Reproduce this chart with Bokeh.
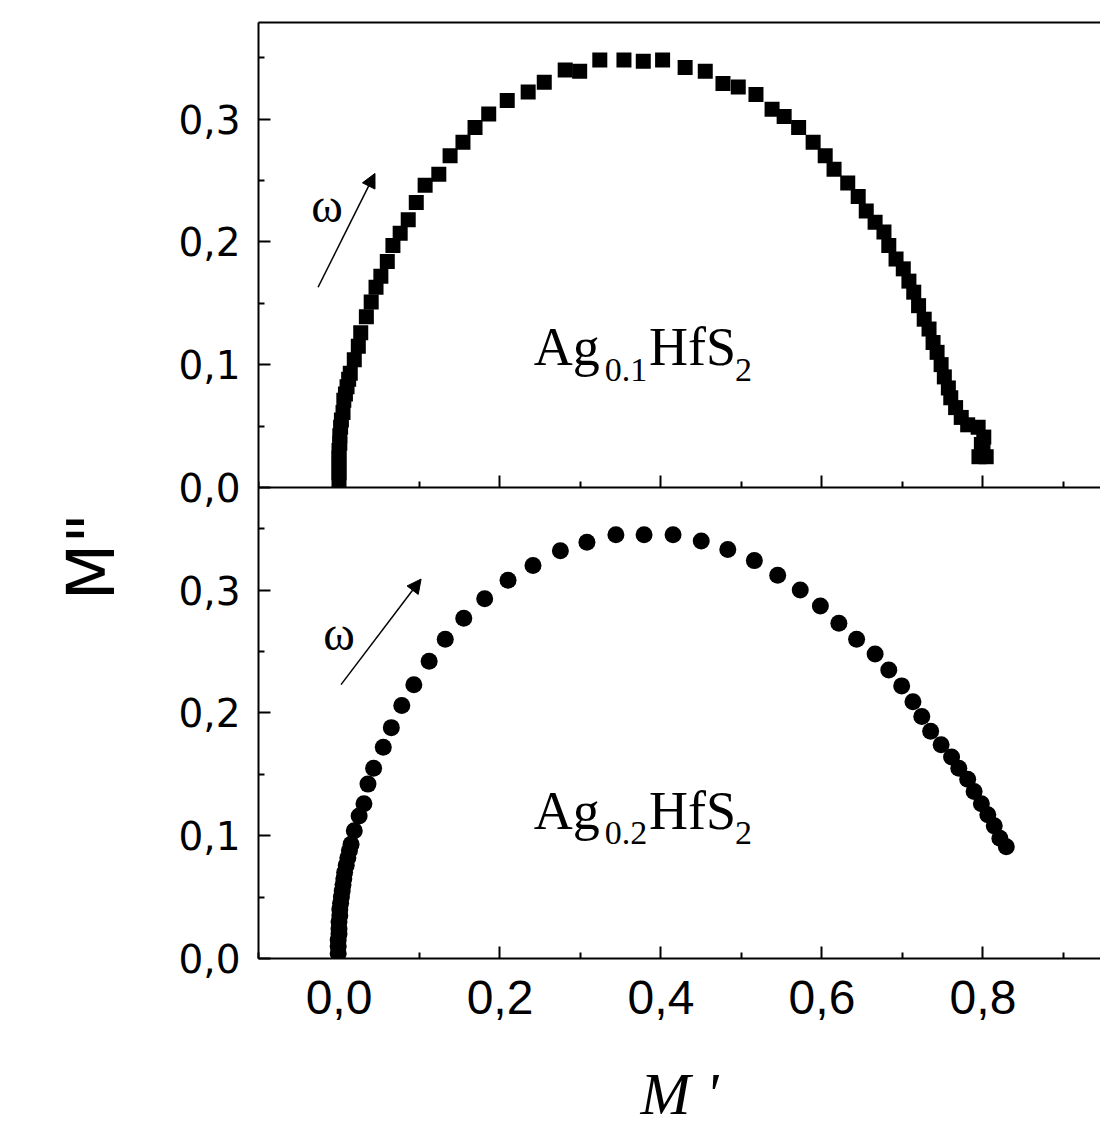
from bokeh.plotting import figure
from bokeh.models import (Range1d, LinearAxis, FixedTicker, CustomJSTickFormatter,
                          Label, Arrow, NormalHead, ColumnDataSource, Title)
from bokeh.embed import file_html
from bokeh.resources import INLINE

# ---------------- data ----------------
# Ag0.1HfS2 (top panel, squares)
top_m1 = [0.000, 0.000, 0.000, 0.000, 0.000, 0.001, 0.001, 0.002, 0.003, 0.005, 0.006, 0.008,
          0.010, 0.012, 0.014, 0.019, 0.024, 0.027, 0.034, 0.040, 0.046, 0.052, 0.060,
          0.067, 0.076, 0.086, 0.096, 0.107, 0.124, 0.138, 0.154, 0.169, 0.186, 0.209,
          0.235, 0.255, 0.281, 0.299, 0.324, 0.354, 0.378, 0.402, 0.430, 0.455, 0.477,
          0.496, 0.518, 0.538, 0.553, 0.571, 0.589, 0.604, 0.615, 0.632, 0.645, 0.655,
          0.666, 0.677, 0.683, 0.692, 0.701, 0.708, 0.714, 0.720, 0.727, 0.733, 0.738,
          0.743, 0.748, 0.752, 0.757, 0.760, 0.766, 0.773, 0.781, 0.794, 0.801, 0.800,
          0.804, 0.795, 0.798]
top_m2 = [0.006, 0.012, 0.018, 0.024, 0.030, 0.036, 0.042, 0.049, 0.055, 0.061, 0.071, 0.076,
          0.082, 0.088, 0.093, 0.104, 0.115, 0.126, 0.139, 0.151, 0.163, 0.172, 0.184,
          0.197, 0.207, 0.218, 0.232, 0.246, 0.255, 0.270, 0.281, 0.293, 0.304, 0.315,
          0.322, 0.330, 0.340, 0.339, 0.348, 0.348, 0.347, 0.348, 0.342, 0.339, 0.329,
          0.326, 0.320, 0.308, 0.302, 0.293, 0.281, 0.270, 0.259, 0.248, 0.237, 0.225,
          0.216, 0.208, 0.197, 0.186, 0.178, 0.168, 0.159, 0.148, 0.137, 0.129, 0.118,
          0.110, 0.100, 0.090, 0.081, 0.073, 0.065, 0.057, 0.051, 0.049, 0.041, 0.030,
          0.025, 0.025, 0.035]

# Ag0.2HfS2 (bottom panel, circles)
bot_m1 = [-0.001, -0.001, -0.001, 0.000, 0.000, 0.000, 0.001, 0.001, 0.002, 0.003, 0.004,
          0.005, 0.006, 0.007, 0.009, 0.011, 0.013, 0.015, 0.019, 0.025, 0.031, 0.036,
          0.043, 0.055, 0.065, 0.078, 0.093, 0.112, 0.132, 0.155, 0.181, 0.210, 0.241,
          0.275, 0.308, 0.344, 0.379, 0.415, 0.450, 0.483, 0.516, 0.545, 0.573, 0.598,
          0.621, 0.643, 0.666, 0.683, 0.699, 0.713, 0.724, 0.735, 0.748, 0.761, 0.770,
          0.781, 0.789, 0.798, 0.806, 0.814, 0.821, 0.829]
bot_m2 = [0.004, 0.010, 0.015, 0.020, 0.024, 0.030, 0.035, 0.040, 0.045, 0.050, 0.055,
          0.060, 0.065, 0.070, 0.076, 0.082, 0.088, 0.093, 0.104, 0.116, 0.126, 0.142,
          0.155, 0.172, 0.188, 0.206, 0.223, 0.242, 0.260, 0.277, 0.293, 0.308, 0.320,
          0.332, 0.339, 0.345, 0.345, 0.345, 0.340, 0.333, 0.324, 0.312, 0.300, 0.287,
          0.273, 0.260, 0.248, 0.235, 0.222, 0.209, 0.197, 0.185, 0.174, 0.164, 0.155,
          0.146, 0.136, 0.126, 0.117, 0.108, 0.098, 0.091]

x_major = [0.0, 0.2, 0.4, 0.6, 0.8]
x_minor = [-0.1, 0.1, 0.3, 0.5, 0.7, 0.9]
y_major = [0.0, 0.1, 0.2, 0.3]
y_minor = [0.05, 0.15, 0.25, 0.35]

x_title = "M '"
y_title = 'M"'
top_name = ["Ag", "0.1", "HfS", "2"]
bot_name = ["Ag", "0.2", "HfS", "2"]

# ---------------- layout constants ----------------
SPLIT = 0.3836          # where the two panels meet (in bottom-panel units)
YMAX = 0.7622

p = figure(width=1100, height=1129, x_range=Range1d(-0.1, 0.946), y_range=Range1d(0, YMAX),
           output_backend="svg", toolbar_location=None, x_axis_type=None, y_axis_type=None,
           min_border_left=258, min_border_right=0, min_border_top=22, min_border_bottom=171)
p.extra_y_ranges = {"top": Range1d(-SPLIT, YMAX - SPLIT)}
p.outline_line_color = None
p.background_fill_color = "white"
p.border_fill_color = "white"

fmt = CustomJSTickFormatter(code="return tick.toFixed(1).replace('.', ',');")
blank = CustomJSTickFormatter(code="return '';")
# one left axis serves both panels: upper-panel ticks are shifted by SPLIT
yfmt = CustomJSTickFormatter(args=dict(split=SPLIT), code="""
    const v = tick >= split - 1e-6 ? tick - split : tick;
    return v.toFixed(1).replace('.', ',');
""")

def style_axis(ax, label_size, font, standoff):
    ax.axis_line_width = 2
    ax.axis_line_color = "black"
    ax.major_tick_line_width = 2
    ax.minor_tick_line_width = 2
    ax.major_tick_in = 12
    ax.major_tick_out = 0
    ax.minor_tick_in = 6
    ax.minor_tick_out = 0
    ax.major_label_text_font_size = label_size
    ax.major_label_text_font = font
    ax.major_label_text_color = "black"
    ax.major_label_standoff = standoff

# bottom x axis
xb = LinearAxis(ticker=FixedTicker(ticks=x_major, minor_ticks=x_minor), formatter=fmt)
style_axis(xb, "48px", "Liberation Sans", 22)
xb.axis_label = x_title
xb.axis_label_text_font = "Liberation Serif"
xb.axis_label_text_font_style = "italic"
xb.axis_label_text_font_size = "60px"
xb.axis_label_standoff = 44
xb.axis_label_text_color = "black"
p.add_layout(xb, "below")

# middle axis (bottom of the top panel)
xm = LinearAxis(ticker=FixedTicker(ticks=x_major, minor_ticks=x_minor), fixed_location=SPLIT,
                formatter=blank)
style_axis(xm, "10px", "Liberation Sans", 0)
p.add_layout(xm, "below")

# top border
xt = LinearAxis(ticker=FixedTicker(ticks=[]), formatter=blank)
style_axis(xt, "10px", "Liberation Sans", 0)
p.add_layout(xt, "above")

# left axis (both panels)
y_ticks = y_major + [SPLIT + t for t in y_major]
y_mticks = y_minor + [SPLIT + t for t in y_minor]
yb = LinearAxis(ticker=FixedTicker(ticks=y_ticks, minor_ticks=y_mticks), formatter=yfmt)
style_axis(yb, "39px", "DejaVu Sans", 18)
p.add_layout(yb, "left")

# y title
p.add_layout(Title(text=y_title, align="left", offset=358, standoff=92,
                   text_font="DejaVu Sans", text_font_size="66px",
                   text_font_style="normal", text_color="black"), "left")

# data
src_top = ColumnDataSource(dict(x=top_m1, y=top_m2))
src_bot = ColumnDataSource(dict(x=bot_m1, y=bot_m2))
p.scatter("x", "y", source=src_top, marker="square", size=15, fill_color="black",
          line_color="black", line_width=0, y_range_name="top")
p.scatter("x", "y", source=src_bot, marker="circle", size=17, fill_color="black",
          line_color="black", line_width=0)

# arrows and omega
p.add_layout(Arrow(x_start=-0.026, y_start=0.163, x_end=0.0447, y_end=0.2557,
                   end=NormalHead(size=14, fill_color="black", line_color="black"),
                   line_width=1.5, line_color="black", y_range_name="top"))
p.add_layout(Arrow(x_start=0.0025, y_start=0.223, x_end=0.102, y_end=0.309,
                   end=NormalHead(size=14, fill_color="black", line_color="black"),
                   line_width=1.5, line_color="black"))
p.add_layout(Label(x=-0.015, y=0.2296, text="\u03c9", text_font="Liberation Serif",
                   text_font_size="48px", text_align="center", text_baseline="alphabetic",
                   text_color="black", y_range_name="top"))
p.add_layout(Label(x=0.0, y=0.2647, text="\u03c9", text_font="Liberation Serif",
                   text_font_size="48px", text_align="center", text_baseline="alphabetic",
                   text_color="black"))

# compound names
def add_name(parts, y_main, y_sub, rname):
    xs = [0.242, 0.330, 0.385, 0.492]
    for i, t in enumerate(parts):
        sub = i in (1, 3)
        kw = dict(y_range_name=rname) if rname else {}
        p.add_layout(Label(x=xs[i], y=y_sub if sub else y_main, text=t,
                           text_font="Liberation Serif",
                           text_font_size="34px" if sub else "54px",
                           text_align="left", text_baseline="alphabetic",
                           text_color="black", **kw))

add_name(top_name, 0.114, 0.0953, "top")
add_name(bot_name, 0.1205, 0.1018, None)

open("out.html", "w").write(file_html(p, INLINE))
